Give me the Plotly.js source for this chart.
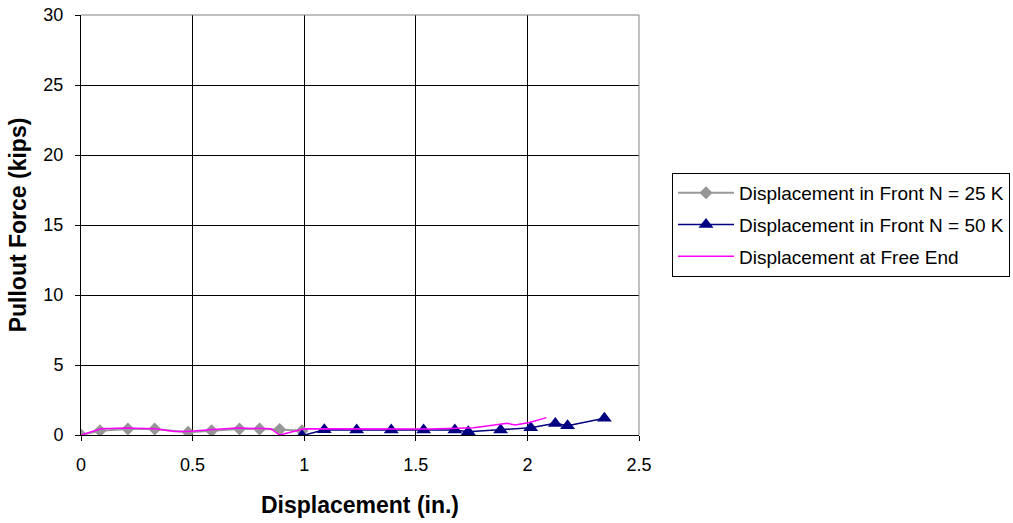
<!DOCTYPE html>
<html>
<head>
<meta charset="utf-8">
<script src="https://cdn.plot.ly/plotly-3.0.1.min.js"></script>
<style>
html,body{margin:0;padding:0;background:#fff;}
#chart{width:1013px;height:523px;}
</style>
</head>
<body>
<div id="chart"></div>
<script>
const seriesNames = ["Displacement in Front N = 25 K", "Displacement in Front N = 50 K", "Displacement at Free End"];

const front25X = [0, 0.085, 0.21, 0.33, 0.48, 0.585, 0.71, 0.80, 0.89, 0.99];
const front25Y = [0, 0.30, 0.43, 0.43, 0.20, 0.30, 0.43, 0.43, 0.40, 0.30];

const front50X = [0.99, 1.09, 1.235, 1.39, 1.535, 1.675, 1.735, 1.88, 2.015, 2.125, 2.18, 2.345];
const front50Y = [-0.05, 0.38, 0.36, 0.36, 0.36, 0.36, 0.24, 0.36, 0.52, 0.83, 0.66, 1.19];

const freeEndX = [0, 0.09, 0.2, 0.33, 0.42, 0.48, 0.59, 0.7, 0.85, 0.89, 1.0, 1.2, 1.4, 1.56, 1.76, 1.91, 1.945, 2.01, 2.085];
const freeEndY = [0, 0.45, 0.5, 0.45, 0.25, 0.25, 0.4, 0.5, 0.45, 0.0, 0.45, 0.45, 0.45, 0.42, 0.52, 0.83, 0.71, 0.9, 1.24];

const xTicks = [0, 0.5, 1, 1.5, 2, 2.5];
const xTickLabels = ["0", "0.5", "1", "1.5", "2", "2.5"];
const yTicks = [0, 5, 10, 15, 20, 25, 30];

const traces = [
  {x: front25X, y: front25Y, name: seriesNames[0], mode: "lines+markers", legendgroup: "a",
   line: {color: "#999999", width: 2}, marker: {symbol: "diamond", size: 10, color: "#969696"}},
  {x: front50X, y: front50Y, name: seriesNames[1], mode: "lines+markers", legendgroup: "b",
   line: {color: "#000080", width: 1.5}, marker: {symbol: "triangle-up", size: 13, color: "#000080"}},
  {x: freeEndX, y: freeEndY, name: seriesNames[2], mode: "lines", legendgroup: "c",
   line: {color: "#FF00FF", width: 1.5}}
];

const layout = {
  width: 1013, height: 523,
  margin: {l: 81, r: 374, t: 15, b: 88, pad: 0},
  paper_bgcolor: "#fff", plot_bgcolor: "#fff",
  font: {family: "Liberation Sans, Arial, sans-serif", size: 18, color: "#000"},
  showlegend: true,
  legend: {xref: "container", yref: "container", x: 672 / 1013, y: 1 - 173 / 523, xanchor: "left", yanchor: "top",
    bordercolor: "#000", borderwidth: 1, bgcolor: "#fff", traceorder: "grouped",
    font: {size: 19, family: "Liberation Sans, Arial, sans-serif"}, tracegroupgap: 4, itemwidth: 56},
  xaxis: {range: [0, 2.5], tickvals: xTicks, ticktext: xTickLabels,
    showgrid: true, gridcolor: "#000", gridwidth: 1,
    showline: true, linecolor: "#000", linewidth: 1, mirror: false,
    ticks: "outside", ticklen: 5, tickcolor: "#000", zeroline: false, ticklabelstandoff: 8,
    title: {text: "<b>Displacement (in.)</b>", font: {size: 23}, standoff: 23},
    tickfont: {size: 18}},
  yaxis: {range: [0, 30], tickvals: yTicks,
    showgrid: true, gridcolor: "#000", gridwidth: 1,
    showline: true, linecolor: "#000", linewidth: 1,
    ticks: "outside", ticklen: 5, tickcolor: "#000", zeroline: false, ticklabelstandoff: 8,
    title: {text: "<b>Pullout Force (kips)</b>", font: {size: 23}, standoff: 10},
    tickfont: {size: 18}},
  shapes: [
    {type: "line", xref: "paper", yref: "paper", x0: 0, x1: 1, y0: 1, y1: 1, line: {color: "#808080", width: 1}},
    {type: "line", xref: "paper", yref: "paper", x0: 1, x1: 1, y0: 0, y1: 1, line: {color: "#808080", width: 1}}
  ]
};

Plotly.newPlot("chart", traces, layout, {displayModeBar: false, staticPlot: true});
</script>
</body>
</html>
